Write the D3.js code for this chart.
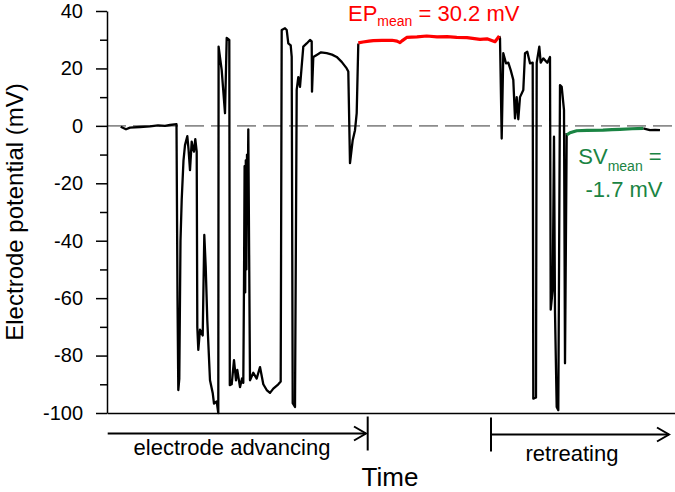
<!DOCTYPE html>
<html>
<head>
<meta charset="utf-8">
<script src="https://cdn.jsdelivr.net/npm/d3@7"></script>
<style>
  body { margin: 0; background: #fff; }
  text { font-family: "Liberation Sans", Arial, sans-serif; }
</style>
</head>
<body>
<svg width="675" height="492"></svg>
<script>
// trace, time in arbitrary units
// electrode advancing (black)
var advT = [13.7, 19, 23, 33, 43, 51, 58, 63, 69.5, 70.5, 71.3, 72.3, 73.5, 74.7, 76.5, 78, 80.3, 81.5, 83, 84.7, 86, 87, 88.3, 89.7,
  90.3, 91.3, 93, 95.7, 97.3, 98.7, 100.3, 103, 105.7, 107, 109.7, 111.3, 111.6, 114.7, 118, 119.7, 122.3, 122.8, 124.7, 127,
  129, 130.3, 133, 135, 136.3, 137, 137.6, 138.2, 138.8, 139.4, 140, 140.6, 141.3, 143, 146.3, 149.7, 153, 156.3, 159.7, 163, 166.3, 171.3, 173.7,
  174.7, 178, 179.7, 181.3, 183.7, 184.7, 185.7, 188, 189.7, 191.3, 193, 196.3, 199.7, 203, 204.7, 205, 206.3, 209.7, 214,
  219.7, 225, 229.7, 234.7, 239.7, 241.3, 243, 245.7, 248, 249.7, 251.3];
var advV = [-0.3, -1.2, -0.6, -0.4, -0.2, 0.2, 0, 0.3, 0.6, -60, -92, -88, -40, -25.8, -12, -6.7, -3.6, -8, -15.4, -5.5, -8, -9, -4.6, -9,
  -70, -78, -71, -73, -38, -49, -67.7, -88.6, -93, -96.7, -96, -100, 27.6, 19.4, 4.4, 30.6, 29.9, -90.3, -90, -81.6,
  -88.6, -85, -91, -88, -89.5, -55, -14, -58, -12, -50, -10, -30, -1.2, -88.6, -86, -88, -84, -90, -92, -93, -91.5, -90, -89,
  33.4, 34, 33.4, 28.7, 28, 24, -96.6, -97.9, 12.5, 17, 13.6, 27.6, 28.7, 29.9, 29.4, 11.9, 24, 24.7, 25.6,
  25.3, 24.8, 24, 22.3, 20, 18.9, -13, -5, -1.5, 4.4, 28.7];

// EP plateau (red)
var epT = [251.3, 256, 262, 266.3, 275, 285, 290, 293, 295, 299.7, 310, 319.7, 330, 340, 349.7, 360, 373, 380, 388, 392.3];
var epV = [28.9, 29.2, 29.5, 29.7, 29.8, 29.8, 29.5, 29.0, 29.6, 30.8, 31.0, 31.3, 31.0, 31.1, 30.8, 30.7, 30.1, 30.3, 29.3, 31.3];

// electrode retreating (black)
var retT = [392.3, 393, 394.7, 396.3, 399, 401.3, 403.7, 406.3, 408, 409.7, 411.3, 413, 416.3, 418, 420.3, 423, 425.7, 426.3,
  429, 429.7, 432.3, 433.7, 436.3, 440.3, 443, 443.7, 445.7, 447, 448, 449.7, 451.3, 453, 454.7, 457, 458, 459.7];
var retV = [31.3, 30.5, -4.4, 25.3, 21.8, 22, 19.4, 16, 2.6, 10, 2.3, 10, 12.5, 25.3, 25.8, 21.8, 22, -95,
  -94.6, 22, 27.6, 22, 23.5, 22, 24, -64, -57, -3.8, -65, -97.9, -99, 14.2, 13.6, 5.5, -82.7, -2.5];

// SV baseline (green)
var svT = [459.7, 463, 469.7, 480, 496, 505, 513, 525, 536.3];
var svV = [-3.2, -2.4, -1.7, -1.6, -1.5, -1.3, -1.2, -1.0, -0.9];

// tail (black)
var tailT = [536.3, 540, 543, 548, 553];
var tailV = [-0.9, -1.2, -1.5, -1.4, -1.5];

var yTicks = [-100, -80, -60, -40, -20, 0, 20, 40];
var yMinor = [-90, -70, -50, -30, -10, 10, 30];

var svg = d3.select("svg");

var x = d3.scaleLinear().domain([0, 568]).range([107, 675]);
var y = d3.scaleLinear().domain([-100, 40]).range([413, 11]);

// zero line
svg.append("line")
    .attr("x1", x(0)).attr("x2", x(568))
    .attr("y1", y(0)).attr("y2", y(0))
    .attr("stroke", "#8c8c8c")
    .attr("stroke-width", 1.6)
    .attr("stroke-dasharray", "19,7");

// minor ticks
svg.append("g")
    .attr("transform", "translate(107,0)")
    .call(d3.axisLeft(y).tickValues(yMinor).tickSize(7).tickFormat(""))
    .call(function(g) { g.select(".domain").remove(); })
    .selectAll("line").attr("stroke-width", 1.5);

// y axis, plain hyphen for negatives like the original
var yAxis = svg.append("g")
    .attr("transform", "translate(107,0)")
    .call(d3.axisLeft(y).tickValues(yTicks).tickSize(11).tickSizeOuter(0).tickPadding(13)
      .tickFormat(function(d) { return String(d); }));
yAxis.select(".domain").attr("stroke-width", 1.5);
yAxis.selectAll("line").attr("stroke-width", 1.5);
yAxis.selectAll("text")
    .attr("font-size", 20)
    .attr("fill", "#000")
    .style("font-family", "'Liberation Sans', Arial, sans-serif");

// x axis (no ticks)
var xAxis = svg.append("g")
    .attr("transform", "translate(0,413)")
    .call(d3.axisBottom(x).tickValues([]).tickSizeOuter(0));
xAxis.select(".domain").attr("stroke-width", 1.5);

function trace(ts, vs, colour, w) {
  var pts = ts.map(function(t, i) { return [t, vs[i]]; });
  svg.append("path")
      .datum(pts)
      .attr("fill", "none")
      .attr("stroke", colour)
      .attr("stroke-width", w)
      .attr("stroke-linejoin", "round")
      .attr("d", d3.line().x(function(d) { return x(d[0]); }).y(function(d) { return y(d[1]); }));
}

trace(advT, advV, "#000", 2.3);
trace(retT, retV, "#000", 2.3);
trace(tailT, tailV, "#000", 2.3);
trace(epT, epV, "#ff0000", 3.2);
trace(svT, svV, "#1a8443", 3.2);

// labels
svg.append("text")
    .attr("transform", "translate(23,212) rotate(-90)")
    .attr("text-anchor", "middle")
    .attr("font-size", 24)
    .text("Electrode potential (mV)");

svg.append("text")
    .attr("x", 390).attr("y", 486)
    .attr("text-anchor", "middle")
    .attr("font-size", 26)
    .text("Time");

var ep = svg.append("text")
    .attr("x", 348).attr("y", 21)
    .attr("font-size", 22)
    .attr("fill", "#ff0000");
ep.append("tspan").text("EP");
ep.append("tspan").attr("font-size", 14).attr("dy", 5).text("mean");
ep.append("tspan").attr("dy", -5).text(" = 30.2 mV");

var sv = svg.append("text")
    .attr("x", 620).attr("y", 164)
    .attr("text-anchor", "middle")
    .attr("font-size", 22)
    .attr("fill", "#1a8443");
sv.append("tspan").text("SV");
sv.append("tspan").attr("font-size", 14).attr("dy", 7).text("mean");
sv.append("tspan").attr("dy", -7).text(" =");
svg.append("text")
    .attr("x", 624).attr("y", 197)
    .attr("text-anchor", "middle")
    .attr("font-size", 22)
    .attr("fill", "#1a8443")
    .text("-1.7 mV");

// phase arrows
function arrow(t0, t1, yy, barAt) {
  var g = svg.append("g").attr("stroke", "#000").attr("stroke-width", 2).attr("fill", "none");
  g.append("line").attr("x1", x(t0)).attr("x2", x(t1)).attr("y1", yy).attr("y2", yy);
  g.append("polyline").attr("points",
    [[x(t1) - 12, yy - 7], [x(t1), yy], [x(t1) - 12, yy + 7]].join(" "));
  g.append("line").attr("x1", x(barAt)).attr("x2", x(barAt)).attr("y1", yy - 17).attr("y2", yy + 17);
}
arrow(0.7, 259, 433.5, 260.7);
arrow(384, 562, 434.5, 384);

svg.append("text")
    .attr("x", 232).attr("y", 455)
    .attr("text-anchor", "middle")
    .attr("font-size", 22)
    .text("electrode advancing");
svg.append("text")
    .attr("x", 572).attr("y", 461)
    .attr("text-anchor", "middle")
    .attr("font-size", 22)
    .text("retreating");
</script>
</body>
</html>
